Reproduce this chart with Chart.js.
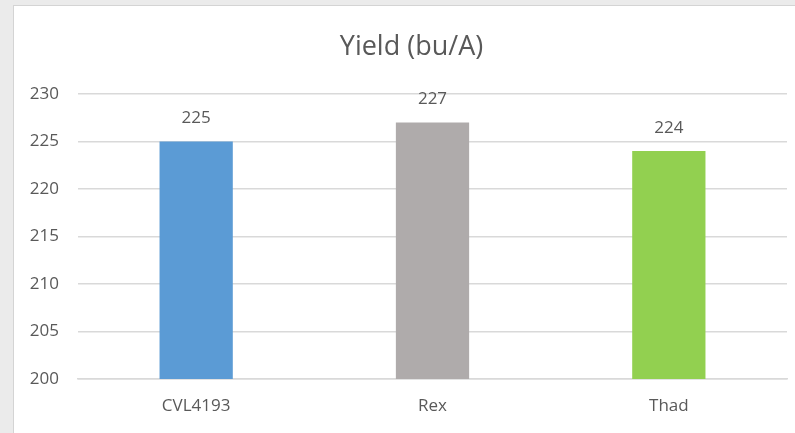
<!DOCTYPE html>
<html>
<head>
<meta charset="utf-8">
<script src="https://cdn.jsdelivr.net/npm/chart.js@4.4.1/dist/chart.umd.min.js"></script>
<style>
  html, body { margin: 0; padding: 0; }
  body {
    width: 795px; height: 433px; overflow: hidden;
    background: #ebebeb;
    position: relative;
    font-family: "Open Sans", "Noto Sans", sans-serif;
  }
  #card {
    position: absolute; left: 13px; top: 5px;
    width: 782px; height: 428px;
    background: #fff;
    border-left: 1px solid #d4d4d4;
    border-top: 1px solid #d4d4d4;
    box-sizing: border-box;
  }
  #chartTitle {
    position: absolute; left: 0; top: 29px;
    width: 823px; text-align: center;
    font-size: 27px; line-height: 32px;
    color: #595959;
    white-space: nowrap;
  }
</style>
</head>
<body>
<div id="card"><canvas id="yieldChart"></canvas></div>
<div id="chartTitle">Yield (bu/A)</div>
<script>
// data
const varieties = ['CVL4193', 'Rex', 'Thad'];
const yieldValues = [225, 227, 224];
const barColors = ['#5b9bd5', '#afabab', '#92d050'];
const yTicks = [200, 205, 210, 215, 220, 225, 230];

const textColor = '#595959';
const fontFamily = '"Open Sans", "Noto Sans", sans-serif';

// value labels above each bar
const valueLabels = {
    id: 'valueLabels',
    afterDatasetsDraw(chart) {
        const ctx = chart.ctx;
        const meta = chart.getDatasetMeta(0);
        ctx.save();
        ctx.fillStyle = textColor;
        ctx.font = '17px ' + fontFamily;
        ctx.textAlign = 'center';
        ctx.textBaseline = 'middle';
        meta.data.forEach((bar, i) => {
            ctx.fillText(chart.data.datasets[0].data[i], bar.x, bar.y - 23);
        });
        ctx.restore();
    }
};

const ctx = document.getElementById('yieldChart').getContext('2d');
new Chart(ctx, {
    type: 'bar',
    data: {
        labels: varieties,
        datasets: [{
            label: 'Yield (bu/A)',
            data: yieldValues,
            backgroundColor: barColors,
            borderWidth: 0,
            categoryPercentage: 0.62,
            barPercentage: 0.5
        }]
    },
    options: {
        responsive: true,
        maintainAspectRatio: false,
        animation: false,
        layout: {
            padding: { top: 88, right: 8, bottom: 0, left: 0 }
        },
        plugins: {
            legend: { display: false },
            tooltip: { enabled: false },
            title: { display: false }
        },
        scales: {
            x: {
                grid: { display: false, drawTicks: false },
                border: { color: '#d9d9d9', width: 1.5 },
                ticks: {
                    color: textColor,
                    font: { family: fontFamily, size: 17 },
                    padding: 17
                },
                afterFit: (scale) => { scale.height = 54; }
            },
            y: {
                min: 200,
                max: 230,
                afterBuildTicks: (scale) => {
                    scale.ticks = yTicks.map(v => ({ value: v }));
                },
                grid: { color: '#d9d9d9', lineWidth: 1.5, drawTicks: false },
                border: { display: false },
                ticks: {
                    color: textColor,
                    font: { family: fontFamily, size: 17 },
                    padding: 19
                },
                afterFit: (scale) => { scale.width = 64; }
            }
        }
    },
    plugins: [valueLabels]
});
</script>
</body>
</html>
